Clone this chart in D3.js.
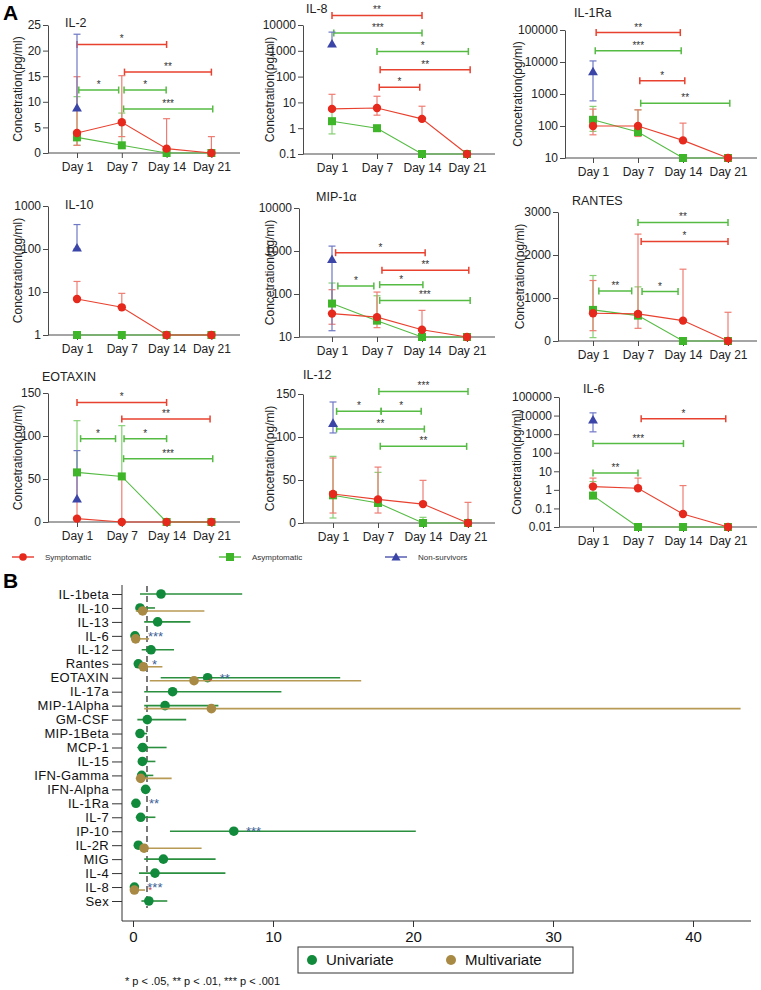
<!DOCTYPE html>
<html><head><meta charset="utf-8">
<script src="https://cdn.jsdelivr.net/npm/d3@7"></script>
<style>body{margin:0;background:#fff;} svg{display:block;font-family:"Liberation Sans",Arial,Helvetica,sans-serif;}</style>
</head><body><svg id="c" width="761" height="990"></svg>
<script>
// ---------------- DATA: panel A ----------------
const days = ["Day 1","Day 7","Day 14","Day 21"];
const seriesNames = ["Symptomatic","Asymptomatic","Non-survivors"];
const yTitle = "Concetration(pg/ml)";

// IL-2
const il2Sym=[3.9,6.0,0.85,0], il2SymHi=[14.9,15.1,6.7,3.2], il2SymLo=[1.5,3.2,null,null];
const il2Asym=[3.05,1.5,0,0], il2AsymHi=[11,7.8,null,null], il2AsymLo=[1.5,null,null,null];
const il2Dead=[8.8], il2DeadHi=[23.2], il2DeadLo=[null];
const il2Sig=[[0,2,21.2,"*","s"],[1.06,3,15.8,"**","s"],[0.04,0.93,12.3,"*","a"],[1.05,1.99,12.3,"*","a"],[1.04,3.03,8.6,"***","a"]];
// IL-8
const il8Sym=[5.6,6.1,2.3,0.1], il8SymHi=[20.6,17.3,7.1,null], il8SymLo=[null,3.2,null,null];
const il8Asym=[1.87,1.0,0.1,0.1], il8AsymHi=[5.5,null,null,null], il8AsymLo=[0.6,null,null,null];
const il8Dead=[1870], il8DeadHi=[5300], il8DeadLo=[null];
const il8Sig=[[0,2,23400,"**","s"],[0.04,2,4870,"***","a"],[1,3.03,945,"*","a"],[1.07,3.07,185,"**","s"],[1.05,1.95,38.5,"*","s"]];
// IL-1Ra
const il1raSym=[100,100,35.5,10], il1raSymHi=[337,320,123,null], il1raSymLo=[53,47,null,null];
const il1raAsym=[156,64.5,10,10], il1raAsymHi=[410,320,null,null], il1raAsymLo=[68,null,null,null];
const il1raDead=[5000], il1raDeadHi=[10800], il1raDeadLo=[610];
const il1raSig=[[0.07,1.94,83000,"**","s"],[0.05,1.96,22300,"***","a"],[1.04,2.04,2580,"*","s"],[1.06,3.04,515,"**","a"]];
// IL-10
const il10Sym=[6.9,4.4,1,1], il10SymHi=[17.6,9.3,null,null], il10SymLo=[null,null,null,null];
const il10Asym=[1,1,1,1], il10AsymHi=[null,null,null,null], il10AsymLo=[null,null,null,null];
const il10Dead=[106], il10DeadHi=[370], il10DeadLo=[100];
const il10Sig=[];
// MIP-1α
const mipSym=[35,29,14.8,10], mipSymHi=[126,111,41.6,null], mipSymLo=[19.8,16.5,null,null];
const mipAsym=[60,24,10,10], mipAsymHi=[180,91,null,null], mipAsymLo=[null,null,null,null];
const mipDead=[640], mipDeadHi=[1300], mipDeadLo=[14];
const mipSig=[[0.08,2.07,915,"*","s"],[1.11,3.04,355,"**","s"],[0.13,0.93,154,"*","a"],[1.06,2.02,165,"*","a"],[1.06,3.07,71,"***","a"]];
// RANTES
const ranSym=[645,630,474,0], ranSymHi=[1407,2486,1670,668], ranSymLo=[240,295,null,null];
const ranAsym=[723,590,0,0], ranAsymHi=[1523,1259,null,null], ranAsymLo=[78,null,null,null];
const ranDead=[null], ranDeadHi=[null], ranDeadLo=[null];
const ranSig=[[1,3,2758,"**","a"],[1.07,3,2315,"*","s"],[0.13,0.86,1165,"**","a"],[1.09,1.89,1150,"*","a"]];
// EOTAXIN
const eoSym=[3.9,0,0,0], eoSymHi=[55,50,null,null], eoSymLo=[null,null,null,null];
const eoAsym=[57.7,53,0,0], eoAsymHi=[117.8,112,null,null], eoAsymLo=[null,null,null,null];
const eoDead=[27], eoDeadHi=[83], eoDeadLo=[null];
const eoSig=[[0,2,139,"*","s"],[1,2.97,119.8,"**","s"],[0.08,0.86,96.9,"*","a"],[1.05,2,96.9,"*","a"],[1.04,3.03,73.6,"***","a"]];
// IL-12
const il12Sym=[33.7,27.5,22,0], il12SymHi=[75.6,65,49.6,24], il12SymLo=[11.6,11.6,null,null];
const il12Asym=[32.2,23.3,0,0], il12AsymHi=[77.5,58.9,6.6,null], il12AsymLo=[5.8,null,null,null];
const il12Dead=[116], il12DeadHi=[140.7], il12DeadLo=[104.7];
const il12Sig=[[1.02,3,153,"***","a"],[0.08,1.07,129.8,"*","a"],[1.07,1.96,129.8,"*","a"],[0.08,2.03,109.3,"**","a"],[1.05,2.97,89.1,"**","a"]];
// IL-6
const il6Sym=[1.5,1.23,0.05,0.01], il6SymHi=[4.3,4.3,1.7,null], il6SymLo=[null,null,null,null];
const il6Asym=[0.49,0.01,0.01,0.01], il6AsymHi=[2.8,null,null,null], il6AsymLo=[null,null,null,null];
const il6Dead=[5900], il6DeadHi=[14000], il6DeadLo=[1330];
const il6Sig=[[1.07,2.95,6700,"*","s"],[0,2.01,310,"***","a"],[0,1,8,"**","a"]];

// ---------------- DATA: panel B ----------------
const bLabels=["IL-1beta","IL-10","IL-13","IL-6","IL-12","Rantes","EOTAXIN","IL-17a","MIP-1Alpha","GM-CSF","MIP-1Beta","MCP-1","IL-15","IFN-Gamma","IFN-Alpha","IL-1Ra","IL-7","IP-10","IL-2R","MIG","IL-4","IL-8","Sex"];
const uniEst=[2.0,0.5,1.76,0.14,1.29,0.38,5.33,2.83,2.29,1.02,0.5,0.69,0.67,0.62,0.9,0.21,0.55,7.2,0.38,2.17,1.57,0.1,1.13];
const uniLo=[0.5,0.2,0.8,0.05,0.62,0.2,1.98,0.8,0.8,0.31,0.3,0.3,0.35,0.3,0.6,0.1,0.2,2.64,0.2,0.8,0.43,0.02,0.6];
const uniHi=[7.8,1.57,4.1,0.5,2.93,1.0,14.8,10.6,6.1,3.8,1.0,2.4,1.6,1.45,1.26,0.4,1.6,20.2,1.0,5.9,6.6,0.4,2.45];
const multiEst=[null,0.69,null,0.19,null,0.74,4.36,null,5.6,null,null,null,null,0.55,null,null,null,null,0.79,null,null,0.1,null];
const multiLo=[null,0.2,null,0.02,null,0.4,1.2,null,0.8,null,null,null,null,0.2,null,null,null,null,0.5,null,null,0.02,null];
const multiHi=[null,5.1,null,1.15,null,2.1,16.3,null,43.4,null,null,null,null,2.76,null,null,null,null,4.9,null,null,0.86,null];
const bStars=[["IL-6","***",1.07,"b"],["Rantes","*",1.36,"b"],["EOTAXIN","*",5.4,"r"],["EOTAXIN","**",6.2,"b"],["IL-1Ra","**",1.14,"b"],["IP-10","***",8.07,"b"],["IL-8","*",1.1,"r"],["IL-8","***",1.02,"b"]];
const bTicks=[0,10,20,30,40];
const bLegend=["Univariate","Multivariate"];
const footnote="* p < .05, ** p < .01, *** p < .001";

// ---------------- RENDER ----------------
const svg=d3.select("#c");
const C={s:"#e5291d",a:"#3fb52a",d:"#3b45a8",sE:"#ee7d73",aE:"#86cf74",dE:"#6f78c4",sL:"#e8412f",aL:"#55bb43",axis:"#4a4a4a"};

const panels=[
 {title:"IL-2",tx:65,ty:27,ax:48,d1:77,step:44.8,end:240,top:25,bot:153,yl:18,log:false,dom:[0,25],ticks:[0,5,10,15,20,25],
  sym:il2Sym,symHi:il2SymHi,symLo:il2SymLo,asym:il2Asym,asymHi:il2AsymHi,asymLo:il2AsymLo,dead:il2Dead,deadHi:il2DeadHi,deadLo:il2DeadLo,sig:il2Sig},
 {title:"IL-8",tx:306,ty:13,ax:303,d1:332,step:45,end:495,top:25,bot:154,yl:270,log:true,dom:[0.1,10000],ticks:[0.1,1,10,100,1000,10000],
  sym:il8Sym,symHi:il8SymHi,symLo:il8SymLo,asym:il8Asym,asymHi:il8AsymHi,asymLo:il8AsymLo,dead:il8Dead,deadHi:il8DeadHi,deadLo:il8DeadLo,sig:il8Sig},
 {title:"IL-1Ra",tx:574,ty:17,ax:565,d1:593,step:45,end:757,top:30,bot:158,yl:518,log:true,dom:[10,100000],ticks:[10,100,1000,10000,100000],
  sym:il1raSym,symHi:il1raSymHi,symLo:il1raSymLo,asym:il1raAsym,asymHi:il1raAsymHi,asymLo:il1raAsymLo,dead:il1raDead,deadHi:il1raDeadHi,deadLo:il1raDeadLo,sig:il1raSig},
 {title:"IL-10",tx:65,ty:209,ax:48,d1:77,step:44.8,end:240,top:206,bot:335,yl:18,log:true,dom:[1,1000],ticks:[1,10,100,1000],
  sym:il10Sym,symHi:il10SymHi,symLo:il10SymLo,asym:il10Asym,asymHi:il10AsymHi,asymLo:il10AsymLo,dead:il10Dead,deadHi:il10DeadHi,deadLo:il10DeadLo,sig:il10Sig},
 {title:"MIP-1α",tx:316,ty:201,ax:299,d1:332,step:45,end:495,top:208,bot:337,yl:270,log:true,dom:[10,10000],ticks:[10,100,1000,10000],
  sym:mipSym,symHi:mipSymHi,symLo:mipSymLo,asym:mipAsym,asymHi:mipAsymHi,asymLo:mipAsymLo,dead:mipDead,deadHi:mipDeadHi,deadLo:mipDeadLo,sig:mipSig},
 {title:"RANTES",tx:572,ty:205,ax:558,d1:593,step:45,end:757,top:212,bot:341,yl:520,log:false,dom:[0,3000],ticks:[0,1000,2000,3000],
  sym:ranSym,symHi:ranSymHi,symLo:ranSymLo,asym:ranAsym,asymHi:ranAsymHi,asymLo:ranAsymLo,dead:ranDead,deadHi:ranDeadHi,deadLo:ranDeadLo,sig:ranSig},
 {title:"EOTAXIN",tx:42,ty:381,ax:48,d1:77,step:44.8,end:240,top:393,bot:522,yl:18,log:false,dom:[0,150],ticks:[0,50,100,150],
  sym:eoSym,symHi:eoSymHi,symLo:eoSymLo,asym:eoAsym,asymHi:eoAsymHi,asymLo:eoAsymLo,dead:eoDead,deadHi:eoDeadHi,deadLo:eoDeadLo,sig:eoSig},
 {title:"IL-12",tx:303,ty:379,ax:303,d1:333,step:45,end:495,top:394,bot:523,yl:270,log:false,dom:[0,150],ticks:[0,50,100,150],
  sym:il12Sym,symHi:il12SymHi,symLo:il12SymLo,asym:il12Asym,asymHi:il12AsymHi,asymLo:il12AsymLo,dead:il12Dead,deadHi:il12DeadHi,deadLo:il12DeadLo,sig:il12Sig},
 {title:"IL-6",tx:583,ty:393,ax:559,d1:593,step:45,end:757,top:397,bot:527,yl:517,log:true,dom:[0.01,100000],ticks:[0.01,0.1,1,10,100,1000,10000,100000],
  sym:il6Sym,symHi:il6SymHi,symLo:il6SymLo,asym:il6Asym,asymHi:il6AsymHi,asymLo:il6AsymLo,dead:il6Dead,deadHi:il6DeadHi,deadLo:il6DeadLo,sig:il6Sig}
];

svg.append("text").attr("x",3).attr("y",20).attr("font-size",21).attr("font-weight","bold").text("A");

function drawPanel(p){
  const g=svg.append("g");
  const y=(p.log?d3.scaleLog():d3.scaleLinear()).domain(p.dom).range([p.bot,p.top]);
  const x=d3.scaleLinear().domain([0,3]).range([p.d1,p.d1+3*p.step]);
  const ya=g.append("g").attr("transform",`translate(${p.ax},0)`)
    .call(d3.axisLeft(y).tickValues(p.ticks).tickFormat(d=>String(d)).tickSize(5).tickSizeOuter(0).tickPadding(2));
  ya.selectAll("path,line").attr("stroke",C.axis);
  ya.selectAll("text").attr("font-size",12).attr("fill","#222").attr("font-family","Liberation Sans, Arial, sans-serif");
  const xa=g.append("g").attr("transform",`translate(0,${p.bot})`)
    .call(d3.axisBottom(x).tickValues([0,1,2,3]).tickFormat(i=>days[i]).tickSize(5).tickSizeOuter(0).tickPadding(4));
  xa.select(".domain").remove();
  xa.append("line").attr("x1",p.ax).attr("x2",p.end).attr("stroke",C.axis);
  xa.selectAll("line").attr("stroke",C.axis);
  xa.selectAll("text").attr("font-size",12).attr("fill","#222").attr("font-family","Liberation Sans, Arial, sans-serif");
  g.append("text").attr("x",p.tx).attr("y",p.ty).attr("font-size",12.5).attr("fill","#222").text(p.title);
  g.append("text").attr("transform",`translate(${p.yl},${(p.top+p.bot)/2}) rotate(-90)`)
    .attr("text-anchor","middle").attr("dy","0.35em").attr("font-size",12).attr("fill","#222").text(yTitle);
  p.sig.forEach(s=>{
    const col=s[4]==="s"?C.sL:C.aL;
    const x1=x(s[0]),x2=x(s[1]),yy=y(s[2]);
    g.append("line").attr("x1",x1).attr("x2",x2).attr("y1",yy).attr("y2",yy).attr("stroke",col).attr("stroke-width",1.5);
    [x1,x2].forEach(xx=>g.append("line").attr("x1",xx).attr("x2",xx).attr("y1",yy-3.5).attr("y2",yy+3.5).attr("stroke",col).attr("stroke-width",1.5));
    g.append("text").attr("x",(x1+x2)/2).attr("y",yy-2).attr("text-anchor","middle").attr("font-size",10).attr("fill","#333").text(s[3]);
  });
  function err(vals,hi,lo,col){
    vals.forEach((v,i)=>{
      if(v==null) return;
      const xx=x(i);
      [hi[i],lo[i]].forEach(e=>{
        if(e==null) return;
        g.append("line").attr("x1",xx).attr("x2",xx).attr("y1",y(v)).attr("y2",y(e)).attr("stroke",col).attr("stroke-width",1.2);
        g.append("line").attr("x1",xx-3.5).attr("x2",xx+3.5).attr("y1",y(e)).attr("y2",y(e)).attr("stroke",col).attr("stroke-width",1.2);
      });
    });
  }
  err(p.asym,p.asymHi,p.asymLo,C.aE);
  err(p.sym,p.symHi,p.symLo,C.sE);
  err(p.dead,p.deadHi,p.deadLo,C.dE);
  const line=d3.line().x((d,i)=>x(i)).y(d=>y(d));
  g.append("path").attr("d",line(p.asym)).attr("fill","none").attr("stroke",C.aL).attr("stroke-width",1.1);
  g.append("path").attr("d",line(p.sym)).attr("fill","none").attr("stroke",C.sL).attr("stroke-width",1.1);
  p.asym.forEach((v,i)=>g.append("rect").attr("x",x(i)-4).attr("y",y(v)-4).attr("width",8).attr("height",8).attr("fill",C.a));
  p.sym.forEach((v,i)=>g.append("circle").attr("cx",x(i)).attr("cy",y(v)).attr("r",4.2).attr("fill",C.s));
  p.dead.forEach((v,i)=>{ if(v==null) return;
    g.append("path").attr("d",d3.symbol(d3.symbolTriangle,42)()).attr("transform",`translate(${x(i)},${y(v)+0.8})`).attr("fill",C.d);});
}
panels.forEach(drawPanel);

const legA=[{n:seriesNames[0],x:12,c:C.s,t:"c"},{n:seriesNames[1],x:219,c:C.a,t:"s"},{n:seriesNames[2],x:385,c:C.d,t:"t"}];
legA.forEach(l=>{
  const g=svg.append("g").attr("transform",`translate(${l.x},557)`);
  g.append("line").attr("x1",0).attr("x2",22).attr("stroke",l.c).attr("stroke-width",1.3);
  if(l.t==="c") g.append("circle").attr("cx",11).attr("r",3.8).attr("fill",l.c);
  if(l.t==="s") g.append("rect").attr("x",7).attr("y",-4).attr("width",8).attr("height",8).attr("fill",l.c);
  if(l.t==="t") g.append("path").attr("d",d3.symbol(d3.symbolTriangle,36)()).attr("transform","translate(11,0.8)").attr("fill",l.c);
  g.append("text").attr("x",33).attr("dy","0.35em").attr("font-size",8).attr("fill","#333").text(l.n);
});

// ---------------- Panel B ----------------
svg.append("text").attr("x",3).attr("y",588).attr("font-size",21).attr("font-weight","bold").text("B");
const xB=d3.scaleLinear().domain([0,40]).range([133,693]);
const yB=d3.scalePoint().domain(bLabels).range([594,901]);
const gB=svg.append("g");
const yAx=gB.append("g").attr("transform","translate(122,0)").call(d3.axisLeft(yB).tickSize(10).tickSizeOuter(0).tickPadding(3));
yAx.select(".domain").remove();
gB.append("line").attr("x1",122).attr("x2",122).attr("y1",585).attr("y2",921).attr("stroke","#333");
yAx.selectAll("line").attr("stroke","#333");
yAx.selectAll("text").attr("font-size",13).attr("letter-spacing","0.35px").attr("fill","#111").attr("font-family","Liberation Sans, Arial, sans-serif");
const xAx=gB.append("g").attr("transform","translate(0,921)").call(d3.axisBottom(xB).tickValues(bTicks).tickSize(6).tickSizeOuter(0).tickPadding(4));
xAx.select(".domain").remove();
gB.append("line").attr("x1",122).attr("x2",751).attr("y1",921).attr("y2",921).attr("stroke","#333");
xAx.selectAll("line").attr("stroke","#333");
xAx.selectAll("text").attr("font-size",15).attr("fill","#111").attr("font-family","Liberation Sans, Arial, sans-serif");
gB.append("line").attr("x1",xB(1)).attr("x2",xB(1)).attr("y1",586).attr("y2",908).attr("stroke","#222").attr("stroke-width",1.2).attr("stroke-dasharray","6,4");
const uniC="#128a3b", multiC="#a88a45", uniLC="#2a8f3e", multiLC="#b89a55";
bLabels.forEach((l,i)=>{
  const yy=yB(l);
  gB.append("line").attr("x1",xB(uniLo[i])).attr("x2",xB(uniHi[i])).attr("y1",yy).attr("y2",yy).attr("stroke",uniLC).attr("stroke-width",1.6);
});
bLabels.forEach((l,i)=>{
  gB.append("circle").attr("cx",xB(uniEst[i])).attr("cy",yB(l)).attr("r",4.8).attr("fill",uniC);
});
bLabels.forEach((l,i)=>{
  if(multiEst[i]==null) return;
  const yy=yB(l)+3;
  gB.append("line").attr("x1",xB(multiLo[i])).attr("x2",xB(multiHi[i])).attr("y1",yy).attr("y2",yy).attr("stroke",multiLC).attr("stroke-width",1.6);
  gB.append("circle").attr("cx",xB(multiEst[i])).attr("cy",yy).attr("r",4.8).attr("fill",multiC);
});
bStars.forEach(s=>{
  const yy=yB(s[0]);
  gB.append("text").attr("x",xB(s[2])).attr("y",yy+(s[3]==="b"?5:6)).attr("font-size",s[3]==="b"?13:9)
    .attr("fill",s[3]==="b"?"#3d5f96":"#c0394a").text(s[1]);
});
gB.append("rect").attr("x",298).attr("y",947).attr("width",275).attr("height",26).attr("fill","#fff").attr("stroke","#333");
gB.append("circle").attr("cx",312).attr("cy",960).attr("r",5).attr("fill",uniC);
gB.append("text").attr("x",326).attr("y",960).attr("dy","0.35em").attr("font-size",15).attr("fill","#111").text(bLegend[0]);
gB.append("circle").attr("cx",451).attr("cy",960).attr("r",5).attr("fill",multiC);
gB.append("text").attr("x",465).attr("y",960).attr("dy","0.35em").attr("font-size",15).attr("fill","#111").text(bLegend[1]);
gB.append("text").attr("x",125).attr("y",985).attr("font-size",11).attr("fill","#111").text(footnote);
</script></body></html>
